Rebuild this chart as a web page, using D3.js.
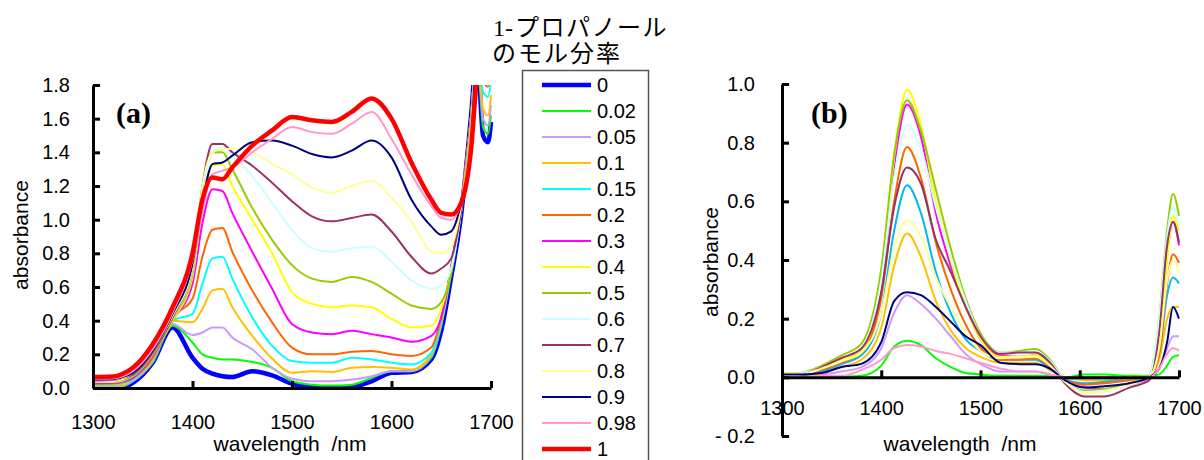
<!DOCTYPE html>
<html>
<head>
<meta charset="utf-8">
<script src="https://cdn.jsdelivr.net/npm/d3@7"></script>
<style>
  body { margin: 0; background: #fff; }
  svg { display: block; font-family: "Liberation Sans", Arial, sans-serif; }
</style>
</head>
<body>
<svg width="1204" height="460"></svg>
<script>
// mole fraction of 1-propanol, one entry per curve
var fractionLabels = ['0', '0.02', '0.05', '0.1', '0.15', '0.2', '0.3', '0.4', '0.5', '0.6', '0.7', '0.8', '0.9', '0.98', '1'];
var lineColors = ['#0000ff', '#00ff00', '#cc99ff', '#ffc000', '#00ffff', '#ff6600', '#ff00ff', '#ffff00',
  '#99cc00', '#ccffff', '#993366', '#ffff99', '#000080', '#ff99cc', '#ff0000'];
var xTicks = [1300, 1400, 1500, 1600, 1700];
var yTicksA = [0, 0.2, 0.4, 0.6, 0.8, 1.0, 1.2, 1.4, 1.6, 1.8];
var yTicksB = [-0.2, 0, 0.2, 0.4, 0.6, 0.8, 1.0];

// (a) absorbance spectra
var wavelengthA = [1300, 1320, 1330, 1340, 1360, 1380, 1400, 1410, 1420, 1430, 1440, 1460, 1480, 1500, 1520,
  1540, 1560, 1580, 1600, 1620, 1640, 1650, 1660, 1670, 1680, 1686, 1692, 1697, 1700];
var abs0 = [0, 0, 0.003, 0.03, 0.15, 0.36, 0.18, 0.115, 0.085, 0.07, 0.065, 0.1, 0.075, 0.025, 0.005,
  0, 0.005, 0.04, 0.09, 0.095, 0.17, 0.34, 0.66, 1.03, 1.62, 2.0, 1.5, 1.46, 1.58];
var abs002 = [0.005, 0.006, 0.01, 0.04, 0.15, 0.37, 0.27, 0.2, 0.18, 0.17, 0.17, 0.155, 0.12, 0.04, 0.02,
  0.015, 0.02, 0.06, 0.1, 0.1, 0.18, 0.37, 0.68, 1.05, 1.62, 2.0, 1.55, 1.51, 1.62];
var abs005 = [0.01, 0.011, 0.015, 0.04, 0.16, 0.38, 0.315, 0.33, 0.36, 0.36, 0.3, 0.23, 0.12, 0.055, 0.04,
  0.04, 0.05, 0.07, 0.1, 0.1, 0.19, 0.38, 0.7, 1.07, 1.62, 2.0, 1.6, 1.56, 1.68];
var abs01 = [0.015, 0.016, 0.02, 0.05, 0.17, 0.4, 0.39, 0.47, 0.58, 0.59, 0.48, 0.31, 0.175, 0.09, 0.1,
  0.095, 0.12, 0.125, 0.12, 0.11, 0.2, 0.39, 0.71, 1.08, 1.62, 2.0, 1.66, 1.62, 1.74];
var abs015 = [0.02, 0.021, 0.03, 0.05, 0.18, 0.4, 0.44, 0.62, 0.77, 0.78, 0.65, 0.42, 0.25, 0.16, 0.15,
  0.15, 0.18, 0.17, 0.15, 0.14, 0.21, 0.4, 0.72, 1.1, 1.62, 2.0, 1.76, 1.73, 1.82];
var abs02 = [0.025, 0.026, 0.035, 0.06, 0.18, 0.42, 0.53, 0.78, 0.94, 0.95, 0.81, 0.58, 0.39, 0.24, 0.2,
  0.2, 0.215, 0.22, 0.2, 0.19, 0.24, 0.42, 0.72, 1.1, 1.62, 2.0, 1.82, 1.79, 1.88];
var abs03 = [0.03, 0.031, 0.04, 0.06, 0.19, 0.4, 0.62, 0.98, 1.18, 1.17, 1.04, 0.81, 0.59, 0.38, 0.33,
  0.32, 0.34, 0.32, 0.3, 0.275, 0.31, 0.42, 0.72, 1.1, 1.6, 2.0, 2.0, 2.0, 2.0];
var abs04 = [0.035, 0.036, 0.045, 0.07, 0.2, 0.4, 0.66, 1.1, 1.32, 1.33, 1.2, 1.0, 0.8, 0.57, 0.5,
  0.48, 0.49, 0.48, 0.41, 0.36, 0.37, 0.47, 0.7, 1.08, 1.58, 2.0, 2.0, 2.0, 2.0];
var abs05 = [0.04, 0.04, 0.05, 0.07, 0.2, 0.41, 0.68, 1.15, 1.4, 1.4, 1.3, 1.07, 0.88, 0.73, 0.65,
  0.63, 0.66, 0.63, 0.56, 0.49, 0.47, 0.51, 0.68, 1.06, 1.55, 2.0, 2.0, 2.0, 2.0];
var abs06 = [0.04, 0.042, 0.055, 0.08, 0.21, 0.42, 0.7, 1.15, 1.4, 1.43, 1.38, 1.26, 1.1, 0.94, 0.83,
  0.81, 0.83, 0.84, 0.75, 0.64, 0.59, 0.61, 0.71, 1.05, 1.52, 2.0, 2.0, 2.0, 2.0];
var abs07 = [0.045, 0.047, 0.06, 0.08, 0.21, 0.42, 0.72, 1.2, 1.45, 1.45, 1.4, 1.32, 1.22, 1.11, 1.02,
  0.99, 1.01, 1.03, 0.93, 0.78, 0.68, 0.71, 0.77, 1.05, 1.5, 2.0, 2.0, 2.0, 2.0];
var abs08 = [0.05, 0.05, 0.06, 0.09, 0.22, 0.43, 0.72, 1.2, 1.4, 1.42, 1.42, 1.4, 1.33, 1.27, 1.19,
  1.16, 1.2, 1.23, 1.13, 0.99, 0.81, 0.8, 0.84, 1.08, 1.5, 2.0, 2.0, 2.0, 2.0];
var abs09 = [0.05, 0.052, 0.065, 0.09, 0.22, 0.44, 0.74, 1.1, 1.33, 1.34, 1.38, 1.46, 1.47, 1.44, 1.39,
  1.37, 1.41, 1.47, 1.37, 1.12, 0.96, 0.91, 0.93, 1.1, 1.45, 2.0, 2.0, 2.0, 2.0];
var abs098 = [0.055, 0.057, 0.07, 0.1, 0.23, 0.45, 0.76, 1.05, 1.27, 1.29, 1.31, 1.4, 1.48, 1.55, 1.52,
  1.51, 1.57, 1.64, 1.48, 1.27, 1.08, 1.01, 1.0, 1.1, 1.45, 1.9, 2.0, 2.0, 2.0];
var abs1 = [0.065, 0.068, 0.085, 0.12, 0.26, 0.48, 0.8, 1.12, 1.25, 1.24, 1.31, 1.44, 1.53, 1.61, 1.59,
  1.58, 1.64, 1.72, 1.6, 1.34, 1.12, 1.04, 1.03, 1.1, 1.42, 1.85, 2.0, 2.0, 2.0];

// (b) difference spectra (no curve for 0 and 1)
var wavelengthB = [1300, 1320, 1340, 1360, 1380, 1400, 1413, 1426, 1440, 1455, 1470, 1485, 1500, 1520,
  1540, 1555, 1570, 1585, 1605, 1625, 1650, 1670, 1680, 1688, 1694, 1700];
var diff002 = [0, 0, 0, 0.002, 0.005, 0.04, 0.105, 0.125, 0.11, 0.065, 0.035, 0.015, 0.01, 0.005,
  0.005, 0.005, 0.005, 0, 0.01, 0.01, 0.005, 0.005, 0.01, 0.04, 0.07, 0.075];
var diff005 = [0.005, 0.005, 0.01, 0.02, 0.035, 0.1, 0.22, 0.28, 0.25, 0.2, 0.14, 0.08, 0.045, 0.02,
  0.02, 0.02, 0.01, 0, 0, 0, 0, 0.005, 0.03, 0.1, 0.14, 0.14];
var diff01 = [0.005, 0.005, 0.015, 0.035, 0.06, 0.17, 0.38, 0.49, 0.41, 0.26, 0.16, 0.1, 0.07, 0.05,
  0.05, 0.05, 0.025, 0, -0.01, -0.01, 0, 0.005, 0.06, 0.2, 0.24, 0.24];
var diff015 = [0.005, 0.006, 0.02, 0.045, 0.075, 0.22, 0.5, 0.655, 0.56, 0.36, 0.22, 0.13, 0.09, 0.06,
  0.06, 0.06, 0.03, -0.005, -0.02, -0.015, -0.005, 0.005, 0.08, 0.28, 0.34, 0.32];
var diff02 = [0.005, 0.008, 0.025, 0.05, 0.085, 0.27, 0.6, 0.785, 0.68, 0.46, 0.3, 0.18, 0.1, 0.06,
  0.06, 0.065, 0.035, -0.01, -0.025, -0.02, -0.01, 0, 0.08, 0.32, 0.42, 0.39];
var diff03 = [0.005, 0.01, 0.03, 0.06, 0.095, 0.31, 0.72, 0.93, 0.82, 0.56, 0.38, 0.24, 0.13, 0.075,
  0.07, 0.075, 0.04, -0.015, -0.035, -0.04, -0.025, -0.005, 0.12, 0.42, 0.53, 0.45];
var diff04 = [0.015, 0.015, 0.03, 0.06, 0.09, 0.33, 0.75, 0.98, 0.86, 0.6, 0.4, 0.24, 0.13, 0.07,
  0.07, 0.075, 0.045, -0.015, -0.05, -0.045, -0.02, 0, 0.12, 0.4, 0.55, 0.5];
var diff05 = [0.01, 0.016, 0.04, 0.075, 0.115, 0.37, 0.76, 0.945, 0.84, 0.64, 0.44, 0.27, 0.15, 0.085,
  0.09, 0.097, 0.06, -0.01, -0.045, -0.04, -0.02, 0.005, 0.2, 0.5, 0.625, 0.55];
var diff06 = [0.01, 0.015, 0.035, 0.065, 0.1, 0.33, 0.68, 0.86, 0.78, 0.58, 0.41, 0.26, 0.14, 0.085,
  0.085, 0.09, 0.055, -0.01, -0.05, -0.045, -0.025, 0, 0.2, 0.48, 0.58, 0.52];
var diff07 = [0.005, 0.01, 0.035, 0.066, 0.098, 0.29, 0.58, 0.715, 0.66, 0.47, 0.36, 0.24, 0.14, 0.08,
  0.085, 0.085, 0.05, -0.02, -0.065, -0.065, -0.035, -0.01, 0.15, 0.45, 0.53, 0.46];
var diff08 = [0.005, 0.01, 0.03, 0.055, 0.085, 0.22, 0.44, 0.535, 0.48, 0.34, 0.24, 0.15, 0.09, 0.065,
  0.07, 0.07, 0.04, -0.015, -0.055, -0.05, -0.025, 0, 0.1, 0.33, 0.4, 0.36];
var diff09 = [0.01, 0.01, 0.015, 0.035, 0.046, 0.12, 0.26, 0.29, 0.28, 0.24, 0.19, 0.14, 0.11, 0.05,
  0.045, 0.045, 0.03, -0.01, -0.035, -0.03, -0.02, 0, 0.03, 0.12, 0.24, 0.2];
var diff098 = [0, 0, 0.005, 0.005, 0.025, 0.06, 0.1, 0.11, 0.105, 0.09, 0.08, 0.065, 0.05, 0.03,
  0.02, 0.02, 0.01, 0, -0.005, -0.005, -0.005, 0, 0.03, 0.08, 0.1, 0.09];

var seriesA = [abs0, abs002, abs005, abs01, abs015, abs02, abs03, abs04, abs05, abs06, abs07, abs08, abs09, abs098, abs1];
var seriesB = [null, diff002, diff005, diff01, diff015, diff02, diff03, diff04, diff05, diff06, diff07, diff08, diff09, diff098, null];

var svg = d3.select('svg');

function fmtTick(d) {
  return d < 0 ? '- ' + d3.format('.1f')(-d) : d3.format('.1f')(d);
}

function drawPanel(p) {
  var x = d3.scaleLinear().domain([1300, 1700]).range(p.xRange);
  var y = d3.scaleLinear().domain(p.yDomain).range(p.yRange);

  svg.append('clipPath')
    .attr('id', 'clip-' + p.name)
    .append('rect')
    .attr('x', p.xRange[0] - 3)
    .attr('y', p.yRange[1])
    .attr('width', p.xRange[1] - p.xRange[0] + 6)
    .attr('height', p.yRange[0] - p.yRange[1]);

  var line = d3.line()
    .x(function (d) { return x(d[0]); })
    .y(function (d) { return y(d[1]); })
    .curve(d3.curveMonotoneX);

  var g = svg.append('g').attr('clip-path', 'url(#clip-' + p.name + ')');
  p.series.forEach(function (values, i) {
    if (!values) {
      return;
    }
    g.append('path')
      .datum(p.wavelengths.map(function (w, j) { return [w, values[j]]; }))
      .attr('d', line)
      .attr('fill', 'none')
      .attr('stroke', p.colors[i])
      .attr('stroke-width', (i === 0 || i === 14) ? 4.5 : 2)
      .attr('stroke-linejoin', 'round');
  });

  var xAxis = d3.axisBottom(x)
    .tickValues(xTicks)
    .tickFormat(d3.format('d'))
    .tickSizeInner(-7)
    .tickSizeOuter(0)
    .tickPadding(p.xPad);
  var yAxis = d3.axisLeft(y)
    .tickValues(p.yTicks)
    .tickFormat(fmtTick)
    .tickSizeInner(-7)
    .tickSizeOuter(0)
    .tickPadding(p.yPad);

  var gx = svg.append('g').attr('transform', 'translate(0,' + y(0) + ')').call(xAxis);
  var gy = svg.append('g').attr('transform', 'translate(' + x(1300) + ',0)').call(yAxis);
  [gx, gy].forEach(function (a) {
    a.selectAll('.domain').attr('stroke', '#000').attr('stroke-width', 3);
    a.selectAll('.tick line').attr('stroke', '#000').attr('stroke-width', 3);
    a.selectAll('text')
      .attr('font-family', '"Liberation Sans", Arial, sans-serif')
      .attr('font-size', 20)
      .attr('fill', '#000');
  });

  svg.append('text')
    .attr('transform', 'translate(' + p.yTitleX + ',' + p.yTitleY + ') rotate(-90)')
    .attr('text-anchor', 'middle')
    .attr('font-size', 21)
    .text('absorbance');
  svg.append('text')
    .attr('x', p.xTitleX)
    .attr('y', 451)
    .attr('text-anchor', 'middle')
    .attr('font-size', 21)
    .attr('xml:space', 'preserve')
    .text('wavelength  /nm');
  svg.append('text')
    .attr('x', p.tagX)
    .attr('y', 123)
    .attr('font-family', '"Liberation Serif", "Times New Roman", serif')
    .attr('font-weight', 'bold')
    .attr('font-size', 30)
    .text(p.tag);
}

drawPanel({
  name: 'a', tag: '(a)', tagX: 116,
  wavelengths: wavelengthA, series: seriesA, colors: lineColors,
  xRange: [93, 491], yDomain: [0, 1.8], yRange: [388, 85], yTicks: yTicksA,
  xPad: 27, yPad: 23, yTitleX: 28, yTitleY: 235, xTitleX: 290
});

var colorsB = lineColors.slice();
colorsB[4] = '#00b8f5';
drawPanel({
  name: 'b', tag: '(b)', tagX: 811,
  wavelengths: wavelengthB, series: seriesB, colors: colorsB,
  xRange: [782, 1179], yDomain: [-0.2, 1.0], yRange: [436, 84], yTicks: yTicksB,
  xPad: 23, yPad: 27, yTitleX: 718, yTitleY: 262, xTitleX: 960
});

// legend title: one text element, two lines
var title = svg.append('text')
  .attr('x', 493)
  .attr('y', 36)
  .attr('font-size', 24)
  .attr('font-family', '"Noto Sans CJK JP", sans-serif');
title.append('tspan')
  .attr('font-family', '"Liberation Serif", serif')
  .text('1-');
title.append('tspan')
  .attr('dx', 2)
  .attr('letter-spacing', 1.5)
  .text('プロパノール');
title.append('tspan')
  .attr('x', 492)
  .attr('dy', 26)
  .attr('letter-spacing', 2)
  .text('のモル分率');

svg.append('rect')
  .attr('x', 522.5)
  .attr('y', 70.5)
  .attr('width', 126)
  .attr('height', 420)
  .attr('fill', 'none')
  .attr('stroke', '#555')
  .attr('stroke-width', 1.5);

var items = svg.append('g')
  .selectAll('g')
  .data(fractionLabels)
  .enter()
  .append('g')
  .attr('transform', function (d, i) { return 'translate(0,' + (85 + i * 26) + ')'; });
items.append('line')
  .attr('x1', 542)
  .attr('x2', 591)
  .attr('stroke', function (d, i) { return lineColors[i]; })
  .attr('stroke-width', function (d, i) { return (i === 0 || i === 14) ? 4.5 : 2; });
items.append('text')
  .attr('x', 597)
  .attr('dy', '0.36em')
  .attr('font-size', 20)
  .text(function (d) { return d; });
</script>
</body>
</html>
